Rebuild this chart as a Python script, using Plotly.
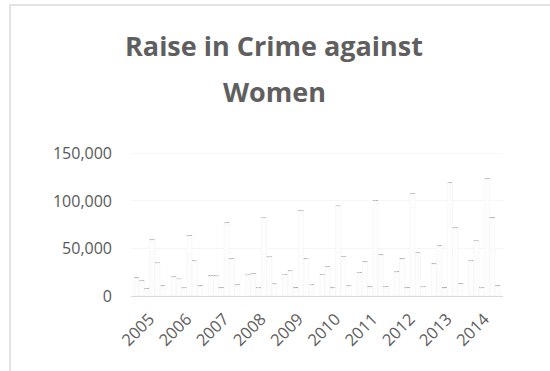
import plotly.graph_objects as go

years = ["2005", "2006", "2007", "2008", "2009", "2010", "2011", "2012", "2013", "2014"]
rape = [18359, 19348, 20737, 21467, 21397, 22172, 24206, 24923, 33707, 36735]
kidnapping = [15750, 17414, 20416, 22939, 25741, 29795, 35565, 38262, 51881, 57311]
dowry_deaths = [6787, 7618, 8093, 8172, 8383, 8391, 8618, 8233, 8083, 8455]
cruelty = [58319, 63128, 75930, 81344, 89546, 94041, 99135, 106527, 118866, 122877]
molestation = [34175, 36617, 38734, 40413, 38711, 40613, 42968, 45351, 70739, 82235]
harassment = [9984, 9966, 10950, 12214, 11009, 9961, 8570, 9173, 12589, 9735]

series = [("Rape", rape), ("Kidnapping", kidnapping), ("Dowry Deaths", dowry_deaths),
          ("Cruelty by Husband", cruelty), ("Molestation", molestation),
          ("Sexual Harassment", harassment)]

fig = go.Figure()
for name, vals in series:
    fig.add_trace(go.Bar(
        x=years, y=vals, name=name,
        marker=dict(color="#fdfdfd", line=dict(color="#f3f3f3", width=0.5)),
        text=[f"{v:,}" for v in vals], textposition="outside",
        textfont=dict(size=4.5, color="#333333"), cliponaxis=False,
    ))

W, H = 550, 371
L, R, T, B = 131, 47, 140, 75
pw, ph = W - L - R, H - T - B

def px(x):
    return (x - L) / pw

def py(y):
    return (H - B - y) / ph

fig.update_layout(
    width=W, height=H, margin=dict(l=L, r=R, t=T, b=B),
    paper_bgcolor="white", plot_bgcolor="white",
    showlegend=False, barmode="group", bargap=0.15, bargroupgap=0,
    font=dict(family="Open Sans, sans-serif", color="#595959"),
    xaxis=dict(tickangle=-45, tickfont=dict(size=16.5, color="#606060"),
               showline=True, linecolor="#d9d9d9", linewidth=1, ticks="",
               ticklabelstandoff=6),
    yaxis=dict(range=[0, 164200], tickvals=[0, 50000, 100000, 150000],
               tickformat=",", tickfont=dict(size=16, color="#595959"),
               showgrid=True, gridcolor="#f6f6f6", zeroline=False,
               ticklabelstandoff=18),
    shapes=[dict(type="rect", xref="paper", yref="paper",
                 x0=px(10), x1=px(560), y0=py(400), y1=py(5),
                 line=dict(color="#d9d9d9", width=1.5), layer="below")],
    annotations=[
        dict(text="<b>Raise in Crime against</b>", xref="paper", yref="paper",
             x=px(274), y=py(46), showarrow=False, xanchor="center", yanchor="middle",
             font=dict(size=27, color="#5f5f5f", family="Open Sans, sans-serif")),
        dict(text="<b>Women</b>", xref="paper", yref="paper",
             x=px(274), y=py(91), showarrow=False, xanchor="center", yanchor="middle",
             font=dict(size=27, color="#5f5f5f", family="Open Sans, sans-serif")),
    ],
)

fig.write_html("out.html")
